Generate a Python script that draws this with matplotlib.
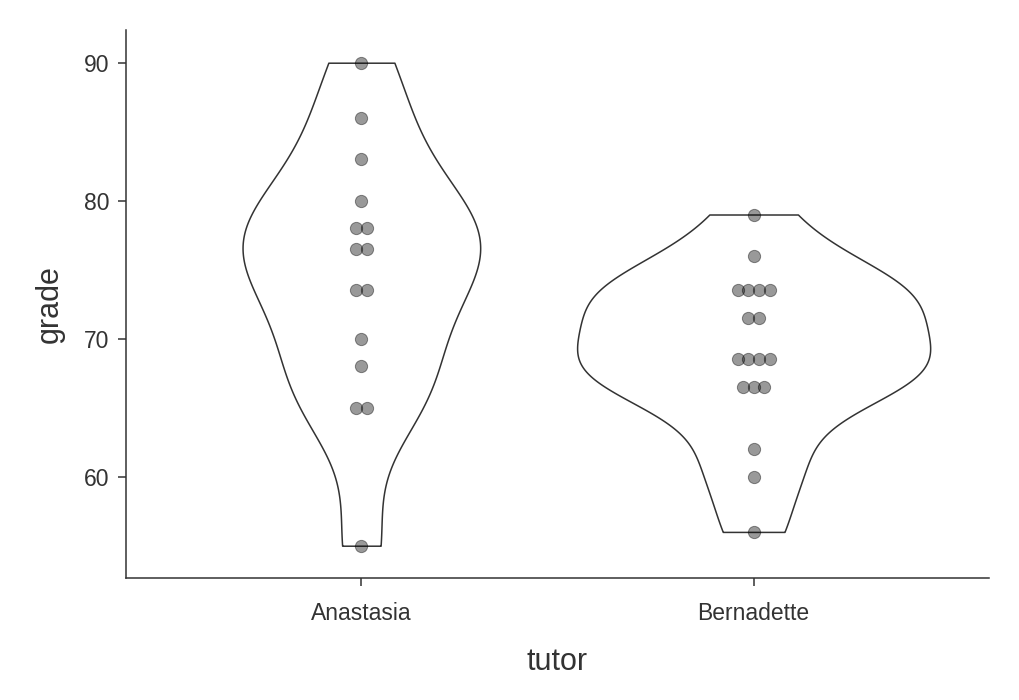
import numpy as np
import matplotlib
matplotlib.use('Agg')
import matplotlib.pyplot as plt

plt.rcParams['font.family'] = ['Liberation Sans', 'DejaVu Sans']

tutors = ['Anastasia', 'Bernadette']
anastasia = [65, 74, 73, 83, 76, 65, 86, 70, 80, 55, 78, 78, 90, 77, 68]
bernadette = [79, 76, 73, 73, 74, 74, 71, 72, 68, 68, 69, 69, 66, 66, 67, 62, 60, 56]
groups = [np.array(anastasia, float), np.array(bernadette, float)]

ink = '#333333'


def nrd0(x):
    # R's bw.nrd0
    sd = np.std(x, ddof=1)
    iqr = np.subtract(*np.percentile(x, [75, 25]))
    lo = min(sd, iqr / 1.34)
    return 0.9 * lo * len(x) ** -0.2


def max_density(x):
    bw = nrd0(x)
    grid = np.linspace(x.min(), x.max(), 512)
    d = np.exp(-0.5 * ((grid[:, None] - x[None, :]) / bw) ** 2).sum(axis=1)
    return d.max() / (len(x) * bw * np.sqrt(2 * np.pi))


def dot_bins(x, binwidth):
    # ggplot dotdensity binning
    x = np.sort(x)
    out = []
    i = 0
    while i < len(x):
        j = i
        while j < len(x) and x[j] < x[i] + binwidth:
            j += 1
        out.append(((x[i] + x[j - 1]) / 2, j - i))
        i = j
    return out


fig = plt.figure(figsize=(10.2, 7), dpi=100)
ax = fig.add_axes([126 / 1020, 122 / 700, 863 / 1020, 548 / 700])

# area scaling like geom_violin default
maxd = np.array([max_density(g) for g in groups])
widths = 0.9 * maxd / maxd.max()
bw = [nrd0(g) / np.std(g, ddof=1) for g in groups]

for i, g in enumerate(groups):
    parts = ax.violinplot([g], positions=[i + 1], widths=[widths[i]],
                          bw_method=bw[i], points=512,
                          showextrema=False)
    for b in parts['bodies']:
        b.set_facecolor('white')
        b.set_edgecolor(ink)
        b.set_linewidth(1.1)
        b.set_alpha(1)

binwidth = (max(g.max() for g in groups) - min(g.min() for g in groups)) / 30
step = 0.027
for i, g in enumerate(groups):
    xs, ys = [], []
    for center, n in dot_bins(g, binwidth):
        for k in range(n):
            xs.append(i + 1 + (k - (n - 1) / 2) * step)
            ys.append(center)
    ax.scatter(xs, ys, s=78, facecolor=(0, 0, 0, 0.4),
               edgecolor=(0, 0, 0, 0.42), linewidth=0.7, zorder=3)

ax.set_xlim(0.4, 2.6)
ax.set_ylim(52.66, 92.37)
ax.set_xticks([1, 2])
ax.set_xticklabels(tutors)
ax.set_yticks([60, 70, 80, 90])

for s in ['top', 'right']:
    ax.spines[s].set_visible(False)
for s in ['left', 'bottom']:
    ax.spines[s].set_color(ink)
    ax.spines[s].set_linewidth(1.1)
ax.tick_params(colors=ink, labelcolor=ink, labelsize=16.5, width=1.1, length=6)
ax.tick_params(axis='x', pad=11)
ax.tick_params(axis='y', pad=6)

ax.set_xlabel('tutor', fontsize=22, color=ink, labelpad=16)
ax.set_ylabel('grade', fontsize=22, color=ink, labelpad=14)

fig.savefig('out.png', dpi=100)
